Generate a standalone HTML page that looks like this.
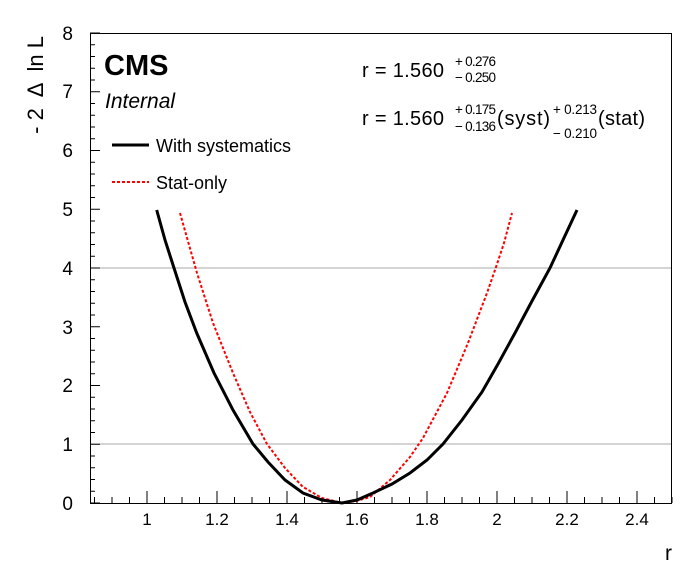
<!DOCTYPE html>
<html><head><meta charset="utf-8"><style>
body{margin:0;background:#fff}
svg{display:block;font-family:"Liberation Sans",Arial,sans-serif}
</style></head><body>
<svg id="s" width="696" height="572" viewBox="0 0 696 572" xmlns="http://www.w3.org/2000/svg">
<rect width="696" height="572" fill="#fff"/>
<line x1="90" y1="268" x2="672" y2="268" stroke="#aaa" stroke-width="1"/>
<line x1="90" y1="444" x2="672" y2="444" stroke="#aaa" stroke-width="1"/>
<g id="ticks" stroke="#000" stroke-width="1"></g>
<rect x="90.5" y="33.5" width="581" height="470" fill="none" stroke="#000" stroke-width="1"/>
<polyline fill="none" stroke="#f00" stroke-width="2" stroke-dasharray="3,2" points="180,213 197,273 213,323 233,373 250,412 267,444 285,468 303,487 322,498 342,503 356,501 370,497 390,480 410,457 423,438 447,393 468,343 487,293 495,270 504,243 512,213"/>
<polyline fill="none" stroke="#000" stroke-width="3" points="156.7,210 165,240 174,268 185,302 196.7,333 214,373 233,410 253,444 268,462 285,480 303,493 322,500 342,503 357,500 373,493 392,484 410,473 427,460 443,444 462,420 482,392 498,364 515,333 532,301 550,268 563,240 577,210"/>
<g font-size="19" text-anchor="end" fill="#000">
<text x="73" y="510">0</text><text x="73" y="451">1</text><text x="73" y="392">2</text><text x="73" y="334">3</text><text x="73" y="275">4</text><text x="73" y="216">5</text><text x="73" y="157">6</text><text x="73" y="98">7</text><text x="73" y="40">8</text>
</g>
<g font-size="17" text-anchor="middle" fill="#000">
<text x="147" y="525">1</text><text x="217" y="525">1.2</text><text x="287" y="525">1.4</text><text x="357" y="525">1.6</text><text x="427" y="525">1.8</text><text x="497" y="525">2</text><text x="567" y="525">2.2</text><text x="637" y="525">2.4</text>
</g>
<text x="672" y="560" font-size="21" text-anchor="end">r</text>
<text transform="translate(43,36) rotate(-90)" font-size="22" text-anchor="end" xml:space="preserve">- 2  Δ  ln L</text>
<text x="104" y="75" font-size="29" font-weight="bold">CMS</text>
<text x="105" y="108" font-size="21" font-style="italic">Internal</text>
<line x1="112" y1="145" x2="149" y2="145" stroke="#000" stroke-width="3"/>
<text x="156" y="152" font-size="18">With systematics</text>
<line x1="112" y1="182" x2="149" y2="182" stroke="#f00" stroke-width="2" stroke-dasharray="3,2"/>
<text x="156" y="189" font-size="18">Stat-only</text>
<g font-size="20">
<text x="362" y="77" textLength="82">r = 1.560</text>
<text x="362" y="125" textLength="82">r = 1.560</text>
<text x="497" y="125" textLength="53">(syst)</text>
<text x="598" y="125" textLength="47">(stat)</text>
</g>
<g font-size="13.5">
<text x="455" y="66" textLength="41">+ 0.276</text><text x="455" y="82" textLength="41">− 0.250</text>
<text x="455" y="114" textLength="41">+ 0.175</text><text x="455" y="131" textLength="41">− 0.136</text>
<text x="553" y="114" textLength="44">+ 0.213</text><text x="553" y="138" textLength="44">− 0.210</text>
</g>
</svg>
<script>
var g=document.getElementById('ticks'),h='';
for(var i=0;i<=40;i++){var y=503-i*58.75/5;var L=(i%5==0)?10:5;h+='<line x1="90" y1="'+y+'" x2="'+(90+L)+'" y2="'+y+'"/>';}
for(var v=0.85;v<2.5;v+=0.05){var x=147+(v-1)*350;var k=Math.round(v*100);var L=(k%20==0)?12:6;h+='<line x1="'+x+'" y1="503" x2="'+x+'" y2="'+(503-L)+'"/>';}
g.innerHTML=h;
</script>
</body></html>
